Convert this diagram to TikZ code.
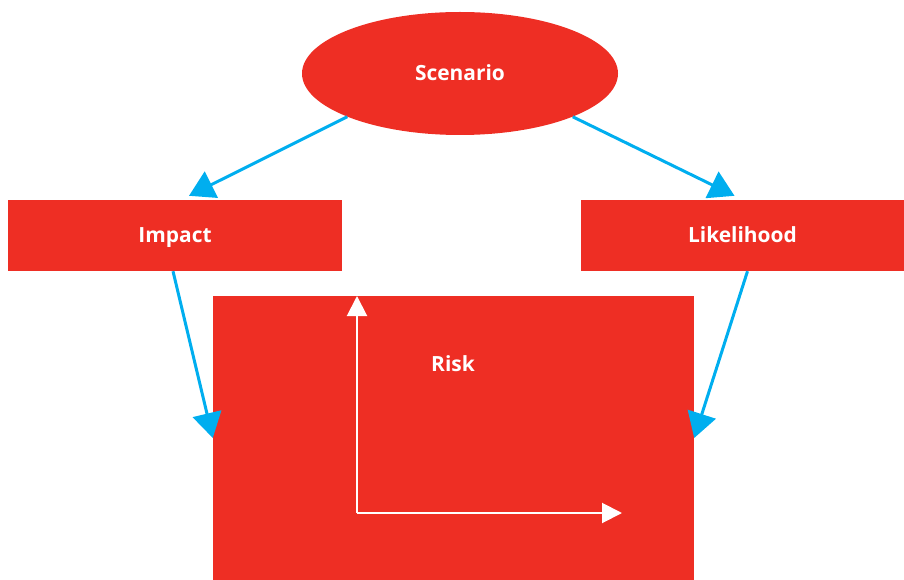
\documentclass[tikz,border=0pt]{standalone}
\usepackage{fontspec}
\setmainfont{Open Sans}
\usepackage{xcolor}
\usetikzlibrary{shapes.geometric, arrows.meta, positioning}
\definecolor{riskred}{HTML}{EE2E24}
\definecolor{flowblue}{HTML}{00AEEF}

\begin{document}
\begin{tikzpicture}[
		x=1bp, y=-1bp,
		% Define styles for the nodes and arrows
		scenario_node/.style={
			ellipse,
			fill=riskred,
			inner sep=0pt,
			minimum width=316bp,
			minimum height=123bp,
			text=white,
			text height=15bp,
			text depth=0bp,
			font=\fontsize{21}{24}\selectfont\bfseries
		},
		factor_node/.style={
			rectangle,
			fill=riskred,
			inner sep=0pt,
			minimum height=71bp,
			text=white,
			text height=15bp,
			text depth=0bp,
			font=\fontsize{21}{24}\selectfont\bfseries
		},
		risk_box/.style={
			rectangle,
			fill=riskred,
			inner sep=0pt,
			minimum width=481bp,
			minimum height=284bp
		},
		flow_arrow/.style={
			-{Triangle[length=25bp, width=29bp]},
			line width=3bp,
			draw=flowblue
		},
		axis_arrow/.style={
			-{Triangle[length=20bp, width=20bp]},
			line width=2bp,
			draw=white
		},
		]
		
		\useasboundingbox (0,0) rectangle (904,580);
		
		% ----- Nodes -----
		\node[scenario_node] (scenario) at (460,73.5) {Scenario};
		\node[factor_node, minimum width=334bp] (impact) at (175,235.5) {Impact};
		\node[factor_node, minimum width=323bp] (likelihood) at (742.5,235.5) {Likelihood};
		\node[risk_box] (risk) at (453.5,438) {};
		\node[text=white, text height=15bp, text depth=0bp, inner sep=0pt, font=\fontsize{21}{24}\selectfont\bfseries] (risk_label) at (453,364) {Risk};
		
		% Axes inside the risk box
		\coordinate (axis_origin) at (357,513);
		\coordinate (axis_top) at (357,296);
		\coordinate (axis_right) at (622,513);
		
		% ----- Arrows -----
		\draw[flow_arrow] (scenario.201) -- ([xshift=14bp, yshift=4bp]impact.north);
		\draw[flow_arrow] (scenario.339) -- ([xshift=-8bp, yshift=4bp]likelihood.north);
		\draw[flow_arrow] ([xshift=-2bp]impact.south) -- (risk.west);
		\draw[flow_arrow] ([xshift=5bp]likelihood.south) -- (risk.east);
		
		\draw[axis_arrow] (axis_origin) -- (axis_top);
		\draw[axis_arrow] (axis_origin) -- (axis_right);
		
	\end{tikzpicture}
\end{document}
